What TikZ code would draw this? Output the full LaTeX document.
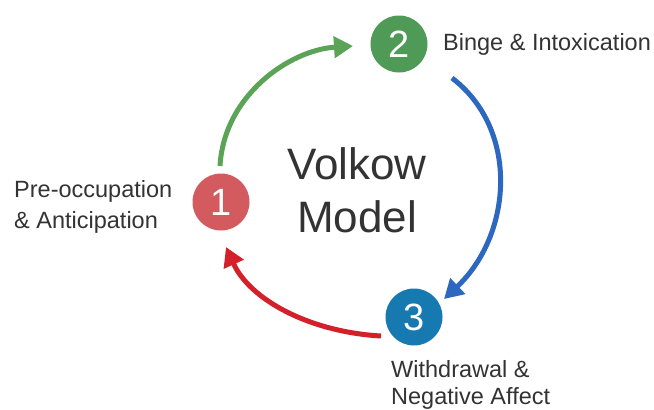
\documentclass[tikz,border=0pt]{standalone}
\usepackage{fontspec}
\setmainfont{Liberation Sans}
\usetikzlibrary{arrows.meta}
\definecolor{cone}{HTML}{D35A5E}
\definecolor{ctwo}{HTML}{4F9A57}
\definecolor{cthree}{HTML}{1679B0}
\definecolor{agreen}{HTML}{5BA356}
\definecolor{ablue}{HTML}{2C68BF}
\definecolor{ared}{HTML}{D4202B}
\definecolor{txt}{HTML}{333333}
\begin{document}
\begin{tikzpicture}[x=1pt,y=-1pt,
  stage/.style={circle,minimum size=57pt,inner sep=0pt,text=white,font=\fontsize{38}{40}\selectfont},
  lab/.style={inner sep=0pt,text=txt,align=left},
  arr/.style={line width=5pt,-{Triangle[length=19pt,width=21pt]}}]
\useasboundingbox (0,0) rectangle (654,410);
\fill[white] (0,0) rectangle (654,410);
\node[stage,fill=cone] (s1) at (221,202) {1};
\node[stage,fill=ctwo] (s2) at (399,44) {2};
\node[stage,fill=cthree] (s3) at (414,317) {3};
\coordinate (g0) at (220,166);
\coordinate (g1) at (353,46);
\coordinate (b0) at (452,78);
\coordinate (b1) at (444,299);
\coordinate (r0) at (381,336);
\coordinate (r1) at (226,247);
\draw[arr,agreen] (g0) .. controls (224,95) and (290,50) .. (g1);
\draw[arr,ablue] (b0) .. controls (520,130) and (512,235) .. (b1);
\draw[arr,ared] (r0) .. controls (310,332) and (250,300) .. (r1);
\node[inner sep=0pt,text=txt,font=\fontsize{44}{53}\selectfont,align=center] (title) at (357,190.5) {Volkow\\Model};
\node[lab,anchor=base west,font=\fontsize{23.5}{30}\selectfont] (l2) at (443,50) {Binge \& Intoxication};
\node[lab,anchor=base west,font=\fontsize{23.5}{31}\selectfont] (l1) at (14,228) {Pre-occupation\\\& Anticipation};
\node[lab,anchor=base west,font=\fontsize{23.5}{27}\selectfont] (l3) at (391,404) {Withdrawal \&\\Negative Affect};
\end{tikzpicture}
\end{document}
